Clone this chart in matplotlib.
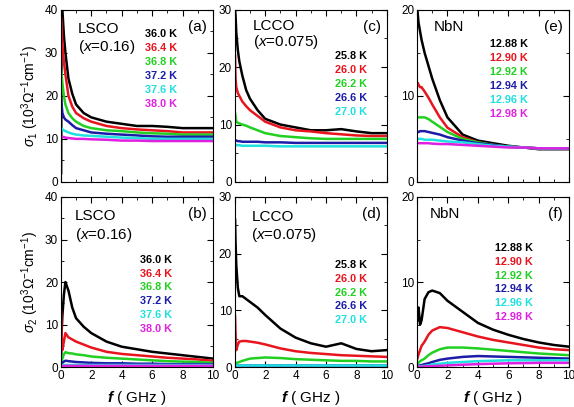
import matplotlib
matplotlib.use('Agg')
import matplotlib.pyplot as plt
from matplotlib.ticker import MultipleLocator

plt.rcParams['font.family'] = ['Liberation Sans', 'DejaVu Sans']
plt.rcParams['mathtext.fontset'] = 'custom'
plt.rcParams['mathtext.rm'] = 'Liberation Sans'
plt.rcParams['mathtext.it'] = 'Liberation Sans:italic'
plt.rcParams['mathtext.bf'] = 'Liberation Sans:bold'
plt.rcParams['mathtext.bfit'] = 'Liberation Sans:italic:bold'

# frequency grid (GHz) shared by all curves
freq = [0.02, 0.05, 0.1, 0.2, 0.3, 0.5, 0.75, 1, 1.5, 2, 3, 4, 5, 6, 7, 8, 9, 10]

# ---- (a) LSCO sigma1
lsco_temps = ['36.0 K', '36.4 K', '36.8 K', '37.2 K', '37.6 K', '38.0 K']
a_360 = [2, 42, 40, 34, 30, 24, 20.5, 18, 16, 15, 14, 13.5, 13, 13, 12.8, 12.5, 12.5, 12.5]
a_364 = [38, 36, 32, 28, 25, 20, 17.5, 16, 14.8, 14, 13, 12.5, 12.2, 12, 11.8, 11.5, 11.5, 11.5]
a_368 = [26, 25, 23, 20, 18, 16, 14.8, 14, 13, 12.5, 12, 11.8, 11.5, 11.3, 11.2, 11, 11, 11]
a_372 = [19, 18, 16, 15, 14.5, 14, 13.2, 12.5, 12, 11.5, 11.2, 11, 10.8, 10.6, 10.5, 10.5, 10.5, 10.5]
a_376 = [12.5, 12.5, 12.2, 12, 11.8, 11.5, 11.2, 11, 10.8, 10.7, 10.5, 10.3, 10.2, 10, 10, 10, 10, 10]
a_380 = [10.5, 10.5, 10.5, 10.4, 10.3, 10.2, 10.1, 10, 10, 9.9, 9.8, 9.6, 9.6, 9.5, 9.5, 9.5, 9.5, 9.5]

# ---- (b) LSCO sigma2
b_360 = [2, 8, 12, 17, 20, 18, 14, 11.5, 9.5, 8, 6, 4.8, 4.2, 3.6, 3.2, 2.8, 2.4, 2]
b_364 = [13, 8, 4, 6, 8, 7, 6.5, 6, 5.3, 4.6, 3.6, 3.1, 2.8, 2.5, 2.2, 2, 1.8, 1.5]
b_368 = [1, 1, 2, 3, 3.5, 3.3, 3.2, 3, 2.8, 2.5, 2.2, 2, 1.8, 1.6, 1.4, 1.3, 1.2, 1]
b_372 = [0.5, 0.8, 1, 1.3, 1.5, 1.4, 1.3, 1.2, 1.1, 1, 0.9, 0.9, 0.8, 0.8, 0.7, 0.7, 0.7, 0.7]
b_376 = [0.3, 0.4, 0.5, 0.5, 0.5, 0.5, 0.5, 0.5, 0.5, 0.5, 0.5, 0.5, 0.5, 0.5, 0.5, 0.5, 0.5, 0.5]
b_380 = [0.2, 0.2, 0.25, 0.3, 0.3, 0.3, 0.3, 0.3, 0.3, 0.3, 0.3, 0.3, 0.3, 0.3, 0.3, 0.3, 0.3, 0.3]

# ---- (c) LCCO sigma1
lcco_temps = ['25.8 K', '26.0 K', '26.2 K', '26.6 K', '27.0 K']
c_258 = [30, 29, 26, 23, 21, 18.5, 16, 14.5, 12.5, 11, 10, 9.5, 9, 9, 9.2, 8.8, 8.5, 8.5]
c_260 = [22, 18, 16.5, 15.5, 15, 14, 13.2, 12.5, 11.5, 10.5, 9.5, 9, 8.8, 8.5, 8.3, 8.1, 8, 8]
c_262 = [12, 11.5, 10.5, 10.3, 10.2, 10, 9.8, 9.5, 9, 8.5, 8, 7.8, 7.6, 7.5, 7.5, 7.5, 7.5, 7.5]
c_266 = [7.3, 7.2, 7.2, 7.1, 7.1, 7, 7, 7, 7, 6.9, 6.9, 6.8, 6.8, 6.8, 6.8, 6.8, 6.8, 6.8]
c_270 = [6.5, 6.5, 6.4, 6.4, 6.4, 6.3, 6.3, 6.3, 6.3, 6.3, 6.2, 6.2, 6.2, 6.2, 6.2, 6.2, 6.2, 6.2]

# ---- (d) LCCO sigma2
d_258 = [26, 22, 18, 14, 12.5, 12.5, 12, 11.5, 10.5, 9.2, 6.8, 5.2, 4.2, 3.6, 4.2, 3.2, 2.8, 3]
d_260 = [9, 6, 3, 4, 4.5, 4.6, 4.6, 4.5, 4.3, 4, 3.3, 2.8, 2.5, 2.3, 2.1, 2, 1.9, 1.8]
d_262 = [0.5, 0.5, 0.7, 0.8, 0.9, 1.1, 1.3, 1.5, 1.6, 1.7, 1.6, 1.4, 1.3, 1.2, 1.1, 1.1, 1, 1]
d_266 = [0.4, 0.4, 0.4, 0.4, 0.4, 0.4, 0.4, 0.4, 0.4, 0.4, 0.4, 0.4, 0.4, 0.4, 0.4, 0.4, 0.4, 0.4]
d_270 = [0.3, 0.3, 0.3, 0.3, 0.3, 0.3, 0.3, 0.3, 0.3, 0.3, 0.3, 0.3, 0.3, 0.3, 0.3, 0.3, 0.3, 0.3]

# ---- (e) NbN sigma1
nbn_temps = ['12.88 K', '12.90 K', '12.92 K', '12.94 K', '12.96 K', '12.98 K']
e_1288 = [20, 19.5, 18.5, 17.5, 16.5, 15, 13.5, 12, 9.5, 7.5, 5.5, 4.8, 4.5, 4.2, 4, 3.8, 3.8, 3.8]
e_1290 = [11.5, 11.5, 11.3, 11, 11, 10.5, 9.8, 9, 7.5, 6.3, 5.2, 4.6, 4.3, 4.1, 4, 3.9, 3.9, 3.9]
e_1292 = [7.5, 7.5, 7.5, 7.5, 7.5, 7.5, 7.3, 7, 6.4, 5.8, 5, 4.6, 4.3, 4.1, 4, 3.9, 3.9, 3.9]
e_1294 = [5.8, 5.8, 5.8, 5.9, 5.9, 5.9, 5.8, 5.7, 5.5, 5.2, 4.8, 4.5, 4.3, 4.1, 4, 3.9, 3.9, 3.9]
e_1296 = [5, 5, 5, 5, 5, 4.9, 4.9, 4.9, 4.8, 4.7, 4.6, 4.4, 4.2, 4.1, 4, 3.9, 3.9, 3.9]
e_1298 = [4.5, 4.5, 4.5, 4.5, 4.5, 4.5, 4.5, 4.45, 4.4, 4.4, 4.3, 4.2, 4.1, 4, 4, 3.9, 3.9, 3.9]

# ---- (f) NbN sigma2
f_1288 = [5.5, 6, 7, 5, 5.5, 8, 8.8, 9, 8.7, 7.8, 6.5, 5.2, 4.4, 3.8, 3.3, 2.9, 2.6, 2.4]
f_1290 = [1, 1.2, 1.5, 2, 2.5, 3, 3.8, 4.3, 4.7, 4.6, 4.1, 3.6, 3.2, 2.9, 2.6, 2.3, 2.1, 2]
f_1292 = [0.3, 0.4, 0.5, 0.7, 0.8, 1, 1.4, 1.7, 2.1, 2.3, 2.3, 2.2, 2.05, 1.9, 1.75, 1.6, 1.5, 1.4]
f_1294 = [0.1, 0.1, 0.15, 0.2, 0.25, 0.35, 0.45, 0.6, 0.85, 1, 1.2, 1.3, 1.25, 1.2, 1.15, 1.1, 1.05, 1]
f_1296 = [0.05, 0.05, 0.08, 0.1, 0.12, 0.15, 0.2, 0.3, 0.4, 0.5, 0.6, 0.7, 0.75, 0.8, 0.8, 0.8, 0.8, 0.8]
f_1298 = [0.05, 0.05, 0.05, 0.05, 0.06, 0.08, 0.1, 0.12, 0.15, 0.2, 0.28, 0.35, 0.4, 0.45, 0.47, 0.5, 0.5, 0.5]

colors = ['black', '#e8141e', '#22d022', '#1c1ca8', '#20e0e0', '#e020e0']

fig = plt.figure(figsize=(5.74, 4.07), dpi=100)

# axes rectangles in figure fractions
lefts = [0.106, 0.409, 0.7265]
width = 0.265
top_rect = (0.553, 0.423)
bot_rect = (0.098, 0.418)

panels = [
    # col, row, curves, temps, ymax, sample, sub, letter, text positions
    (0, 0, [a_360, a_364, a_368, a_372, a_376, a_380], lsco_temps, 40, 'LSCO', '0.16', '(a)', 0.11, 0.89, 0.785, 0.55, 0.86),
    (0, 1, [b_360, b_364, b_368, b_372, b_376, b_380], lsco_temps, 40, 'LSCO', '0.16', '(b)', 0.09, 0.89, 0.775, 0.52, 0.63),
    (1, 0, [c_258, c_260, c_262, c_266, c_270], lcco_temps, 30, 'LCCO', '0.075', '(c)', 0.12, 0.905, 0.81, 0.66, 0.73),
    (1, 1, [d_258, d_260, d_262, d_266, d_270], lcco_temps, 30, 'LCCO', '0.075', '(d)', 0.11, 0.88, 0.775, 0.66, 0.60),
    (2, 0, [e_1288, e_1290, e_1292, e_1294, e_1296, e_1298], nbn_temps, 20, 'NbN', None, '(e)', 0.11, 0.9, 0, 0.48, 0.80),
    (2, 1, [f_1288, f_1290, f_1292, f_1294, f_1296, f_1298], nbn_temps, 20, 'NbN', None, '(f)', 0.085, 0.9, 0, 0.51, 0.70),
]

for col, row, curves, temps, ymax, sample, sub, letter, sx, sy, suby, lx, ly in panels:
    b, h = top_rect if row == 0 else bot_rect
    ax = fig.add_axes([lefts[col], b, width, h])
    for ys, c in zip(curves, colors):
        ax.plot(freq, ys, color=c, lw=1.8)
    ax.set_xlim(0, 10)
    ax.set_ylim(0, ymax)
    ax.xaxis.set_major_locator(MultipleLocator(2))
    ax.xaxis.set_minor_locator(MultipleLocator(1))
    ax.yaxis.set_major_locator(MultipleLocator(10))
    ax.yaxis.set_minor_locator(MultipleLocator(5))
    ax.tick_params(which='both', direction='in', top=True, right=True, labelsize=8.5, pad=2)
    ax.tick_params(which='major', length=4)
    ax.tick_params(which='minor', length=2)
    if row == 0:
        ax.tick_params(labelbottom=False)
    else:
        ax.set_xlabel(r'$\mathbfit{f}$ ( GHz )', fontsize=11, labelpad=5)

    ax.text(sx, sy, sample, transform=ax.transAxes, fontsize=11, va='center')
    if sub is not None:
        ax.text(sx, suby, '($x$=' + sub + ')', transform=ax.transAxes, fontsize=11, va='center')
    ax.text(0.96, 0.9, letter, transform=ax.transAxes, fontsize=11, va='center', ha='right')

    for i, (t, c) in enumerate(zip(temps, colors)):
        ax.text(lx, ly - i * 0.081, t, transform=ax.transAxes, color=c,
                fontsize=7.8, fontweight='bold', va='center')

    if col == 0:
        idx = '1' if row == 0 else '2'
        ax.set_ylabel(r'$\sigma_' + idx + r'$ (10$^3\Omega^{-1}$cm$^{-1}$)', fontsize=10, labelpad=3)

fig.savefig('out.png', dpi=100)
